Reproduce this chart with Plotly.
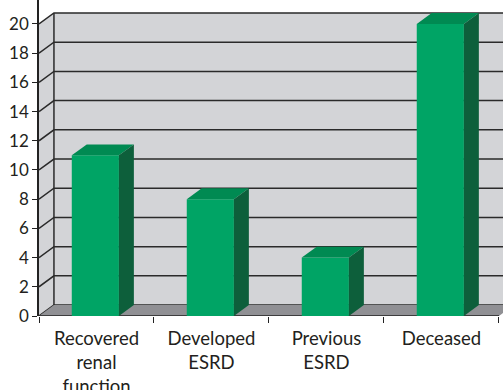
import plotly.graph_objects as go

categories = ["Recovered<br>renal<br>function", "Developed<br>ESRD", "Previous<br>ESRD", "Deceased"]
values = [11, 8, 4, 20]
y_ticks = [0, 2, 4, 6, 8, 10, 12, 14, 16, 18, 20]

# 3-D geometry in data units
DX = 0.13       # depth shift along x (category units)
DY = 0.75       # depth shift along y (value units)
HALF = 0.205    # half bar width
YMAX = 20
XMAX = 4.035
YTOP = 21.64

WALL = "#d3d4d7"
FLOOR = "#909094"
FRONT = "#00a465"
TOP = "#008a52"
SIDE = "#0d5f3b"
GRID = "#2a2a2a"

fig = go.Figure()

def poly(xs, ys, fill, line_color=None, width=0):
    fig.add_trace(go.Scatter(
        x=list(xs) + [xs[0]], y=list(ys) + [ys[0]], mode="lines", fill="toself",
        fillcolor=fill, line=dict(color=line_color or fill, width=width),
        hoverinfo="skip", showlegend=False))

def seg(xs, ys, color=GRID, width=1.5):
    fig.add_trace(go.Scatter(x=xs, y=ys, mode="lines",
                             line=dict(color=color, width=width),
                             hoverinfo="skip", showlegend=False))

n = len(values)
# back wall
poly([DX, n + DX + 1, n + DX + 1, DX], [DY, DY, YMAX + DY, YMAX + DY], WALL)
# side wall
poly([0, DX, DX, 0], [0, DY, YMAX + DY, YMAX], WALL)
# gridlines
for v in y_ticks:
    seg([0, DX, n + DX + 1], [v, v + DY, v + DY])
seg([DX, DX], [DY, YMAX + DY])
# floor
poly([0, n, n + DX, DX], [0, 0, DY, DY], FLOOR)
seg([0, n], [0, 0], "#222", 1.5)

# bars
for i, v in enumerate(values):
    c = i + 0.5 - 0.01
    x0, x1 = c - HALF, c + HALF
    poly([x0, x1, x1, x0], [0, 0, v, v], FRONT)
    poly([x0, x1, x1 + DX, x0 + DX], [v, v, v + DY, v + DY], TOP)
    poly([x1, x1 + DX, x1 + DX, x1], [0, DY, v + DY, v], SIDE)

# invisible trace for the category axis
fig.add_trace(go.Scatter(x=[i + 0.5 for i in range(n)], y=[0] * n, mode="markers",
                         marker=dict(opacity=0), xaxis="x2", hoverinfo="skip",
                         showlegend=False))

font = dict(family="Lato, 'Open Sans', sans-serif", size=17, color="#231f20")
cat_font = dict(family="Lato, 'Open Sans', sans-serif", size=18.5, color="#231f20")
fig.update_layout(
    width=503, height=390,
    margin=dict(l=39, r=0, t=0, b=74, autoexpand=False),
    plot_bgcolor="white", paper_bgcolor="white",
    font=font,
    xaxis=dict(range=[0, XMAX], tickvals=list(range(n + 1)), ticktext=[""] * (n + 1),
               ticks="outside", ticklen=6, tickwidth=1.2, tickcolor="#222",
               showgrid=False, zeroline=False, showline=False, automargin=False),
    xaxis2=dict(range=[0, XMAX], overlaying="x", tickvals=[i + 0.5 for i in range(n)],
                ticktext=categories, ticks="", showgrid=False, zeroline=False,
                showline=False, side="bottom", tickfont=cat_font, anchor="y",
                ticklabelstandoff=9, automargin=False),
    yaxis=dict(range=[0, YTOP], tickvals=y_ticks, ticks="outside", ticklen=5,
               tickwidth=1.2, tickcolor="#222", showgrid=False, zeroline=False,
               showline=True, linecolor="#222", linewidth=1.5, tickfont=font,
               automargin=False),
)
fig.write_html("out.html")
